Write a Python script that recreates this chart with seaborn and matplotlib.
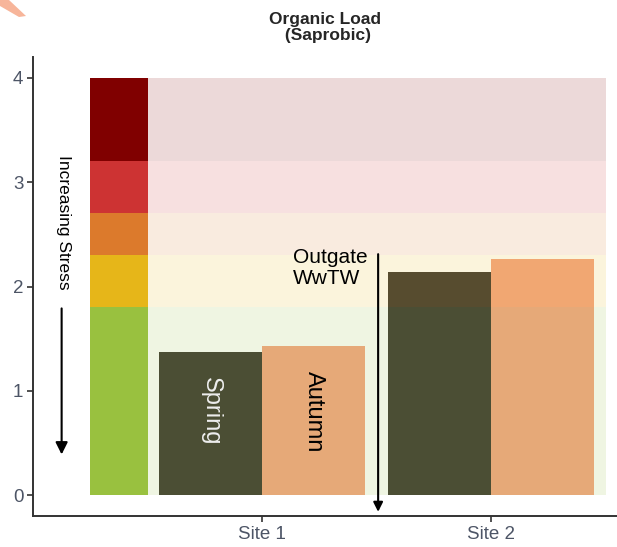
import numpy as np
import pandas as pd
import matplotlib
matplotlib.use("Agg")
import matplotlib.pyplot as plt
import seaborn as sns
from matplotlib.patches import Polygon

# data
sites = ["Site 1", "Site 2"]
seasons = ["Spring", "Autumn"]
spring_vals = [1.37, 2.14]
autumn_vals = [1.43, 2.26]

# stress bands (lower, upper) and colours
band_lo = [0.0, 1.8, 2.3, 2.7, 3.2]
band_hi = [1.8, 2.3, 2.7, 3.2, 4.0]
band_cols = ["#99C13F", "#E6B619", "#DC7A2C", "#CD3333", "#800000"]

season_cols = {"Spring": "#3E3A33", "Autumn": "#F4A582"}

df = pd.DataFrame({
    "site": sites * 2,
    "season": ["Spring"] * 2 + ["Autumn"] * 2,
    "value": spring_vals + autumn_vals,
})

sns.set_theme(style="white")
plt.rcParams["font.family"] = ["Liberation Sans", "DejaVu Sans"]

fig = plt.figure(figsize=(6.17, 5.47), dpi=100)
ax = fig.add_axes([33 / 617, 31 / 547, 584 / 617, 459 / 547])

sns.barplot(data=df, x="site", y="value", hue="season", hue_order=seasons,
            palette=season_cols, width=0.9, gap=0, saturation=1,
            errorbar=None, legend=False, ax=ax, zorder=2, linewidth=0)

# colour key column and translucent bands on top of the bars
bh = np.array(band_hi) - np.array(band_lo)
ax.bar(-0.625, bh, bottom=band_lo, width=0.25, color=band_cols,
       linewidth=0, zorder=3)
ax.bar(0.5, bh, bottom=band_lo, width=2.0, color=band_cols, alpha=0.15,
       linewidth=0, zorder=3)

# season labels inside site 1 bars
ax.text(-0.225, 0.8, "Spring", rotation=-90, ha="center", va="center",
        fontsize=17, color="#EEEEEE", zorder=5)
ax.text(0.225, 0.8, "Autumn", rotation=-90, ha="center", va="center",
        fontsize=17, color="black", zorder=5)

# increasing stress
ax.text(-0.865, 2.62, "Increasing Stress", rotation=-90, ha="center",
        va="center", fontsize=12.5, color="black", zorder=5)
ax.annotate("", xy=(-0.875, 0.39), xytext=(-0.875, 1.79),
            arrowprops=dict(arrowstyle="-|>", color="black", lw=1.5,
                            mutation_scale=18, shrinkA=0, shrinkB=0),
            zorder=5)

# outgate WwTW
ax.text(0.135, 2.18, "Outgate\nWwTW", ha="left", va="center", fontsize=15,
        linespacing=1.15, color="black", zorder=5)
ax.annotate("", xy=(0.507, -0.16), xytext=(0.507, 2.31),
            arrowprops=dict(arrowstyle="-|>", color="black", lw=1.5,
                            mutation_scale=14, shrinkA=0, shrinkB=0),
            zorder=5, annotation_clip=False)

ax.set_xlim(-1.0, 1.55)
ax.set_ylim(-0.2, 4.2)
ax.set_yticks([0, 1, 2, 3, 4])
ax.set_xlabel("")
ax.set_ylabel("")
ax.set_title("Organic Load\n (Saprobic)", fontsize=12.5, fontweight="bold",
             pad=12, linespacing=1.1)

sns.despine(ax=ax)
for s in ["left", "bottom"]:
    ax.spines[s].set_color("#333333")
    ax.spines[s].set_linewidth(1.4)
ax.tick_params(axis="both", which="both", direction="out", length=4,
               width=1.2, color="#333333", labelsize=13.5, labelcolor="#4D5566",
               left=True, bottom=True, pad=3)

# corner decoration
fig.patches.append(Polygon([[0 / 617, 547 / 547], [9 / 617, 547 / 547],
                            [26 / 617, 531 / 547], [19 / 617, 530 / 547],
                            [0 / 617, 541 / 547]],
                           closed=True, transform=fig.transFigure,
                           facecolor="#F7B59A", edgecolor="none"))

fig.savefig("out.png", dpi=100)
